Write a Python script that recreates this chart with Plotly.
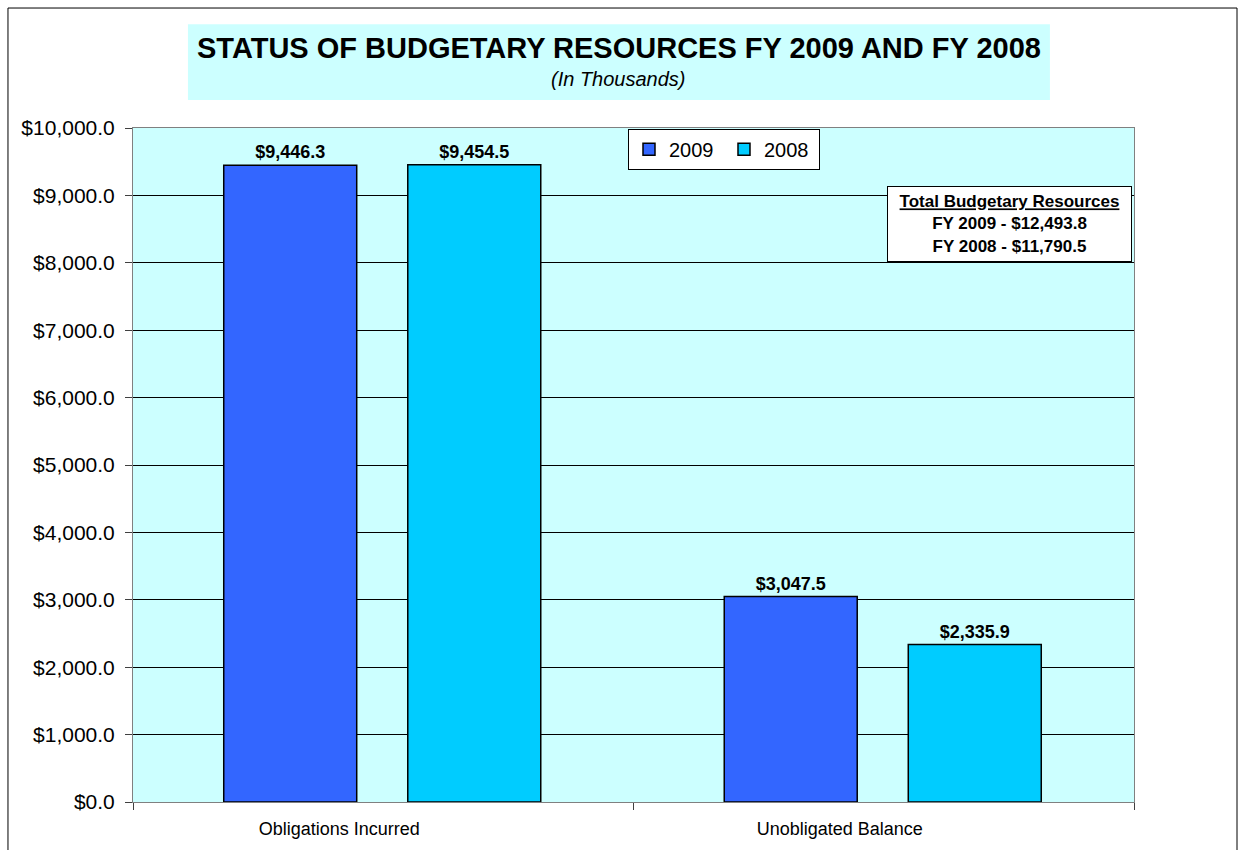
import plotly.graph_objects as go

categories = ["Obligations Incurred", "Unobligated Balance"]
values_2009 = [9446.3, 3047.5]
values_2008 = [9454.5, 2335.9]
series_names = ["2009", "2008"]
colors = ["#3366FF", "#00CCFF"]
bar_offsets = [-0.3187, 0.049]
BAR_WIDTH = 0.2657

FONT = "Arial, Liberation Sans, sans-serif"

fig = go.Figure()
for name, vals, col, off in zip(series_names, [values_2009, values_2008], colors, bar_offsets):
    fig.add_trace(go.Bar(
        x=categories, y=vals, name=name,
        width=BAR_WIDTH, offset=off,
        marker=dict(color=col, line=dict(color="black", width=1.5)),
        texttemplate="<b>$%{y:,.1f}</b>", textposition="outside",
        textfont=dict(family=FONT, size=18, color="black"),
        cliponaxis=False,
    ))

fig.update_layout(
    width=1238, height=850,
    margin=dict(l=133, r=104, t=128, b=48),
    paper_bgcolor="white", plot_bgcolor="#CCFFFF",
    barmode="overlay",
    font=dict(family=FONT, size=16, color="black"),
    showlegend=True,
    legend=dict(orientation="h", x=0.4945, y=0.999, xanchor="left", yanchor="top",
                bgcolor="white", bordercolor="black", borderwidth=1,
                font=dict(family=FONT, size=20), entrywidth=50, traceorder="normal",
                itemwidth=30),
)
fig.update_yaxes(range=[0, 10000], dtick=1000, tickprefix="$", tickformat=",.1f",
                 showgrid=True, gridcolor="black", gridwidth=1,
                 showline=True, linecolor="#808080", linewidth=1, mirror=True,
                 ticks="outside", ticklen=7, tickcolor="#404040",
                 ticklabelstandoff=6,
                 tickfont=dict(family=FONT, size=21), zeroline=False)
fig.update_xaxes(showline=True, linecolor="#808080", linewidth=1, mirror=True,
                 ticks="outside", tickson="boundaries", ticklen=7, tickcolor="#404040",
                 ticklabelstandoff=10, ticklabelshift=-44,
                 tickfont=dict(family=FONT, size=18))

# outer chart border
fig.add_shape(type="rect", xref="paper", yref="paper", x0=-0.1249, x1=1.1029, y0=-0.1, y1=1.178,
              line=dict(color="black", width=1), fillcolor="rgba(0,0,0,0)", layer="below")
# title background
fig.add_shape(type="rect", xref="paper", yref="paper", x0=0.0549, x1=0.916, y0=1.0415, y1=1.154,
              line=dict(width=0), fillcolor="#CCFFFF", layer="below")

fig.add_annotation(xref="paper", yref="paper", x=0.4855, y=1.1187, showarrow=False,
                   xanchor="center", yanchor="middle",
                   text="<b>STATUS OF BUDGETARY RESOURCES FY 2009 AND FY 2008</b>",
                   font=dict(family=FONT, size=29, color="black"))
fig.add_annotation(xref="paper", yref="paper", x=0.4855, y=1.0727, showarrow=False,
                   xanchor="center", yanchor="middle",
                   text="<i>(In Thousands)</i>",
                   font=dict(family=FONT, size=20, color="black"))
fig.add_annotation(xref="paper", yref="paper", x=0.8756, y=0.8576, showarrow=False,
                   xanchor="center", yanchor="middle",
                   text="<b><u>Total Budgetary Resources</u></b><br><b>FY 2009 - $12,493.8</b><br><b>FY 2008 - $11,790.5</b>",
                   font=dict(family=FONT, size=17, color="black"),
                   bgcolor="white", bordercolor="black", borderwidth=1,
                   width=241, height=72, align="center")

fig.write_html("out.html")
